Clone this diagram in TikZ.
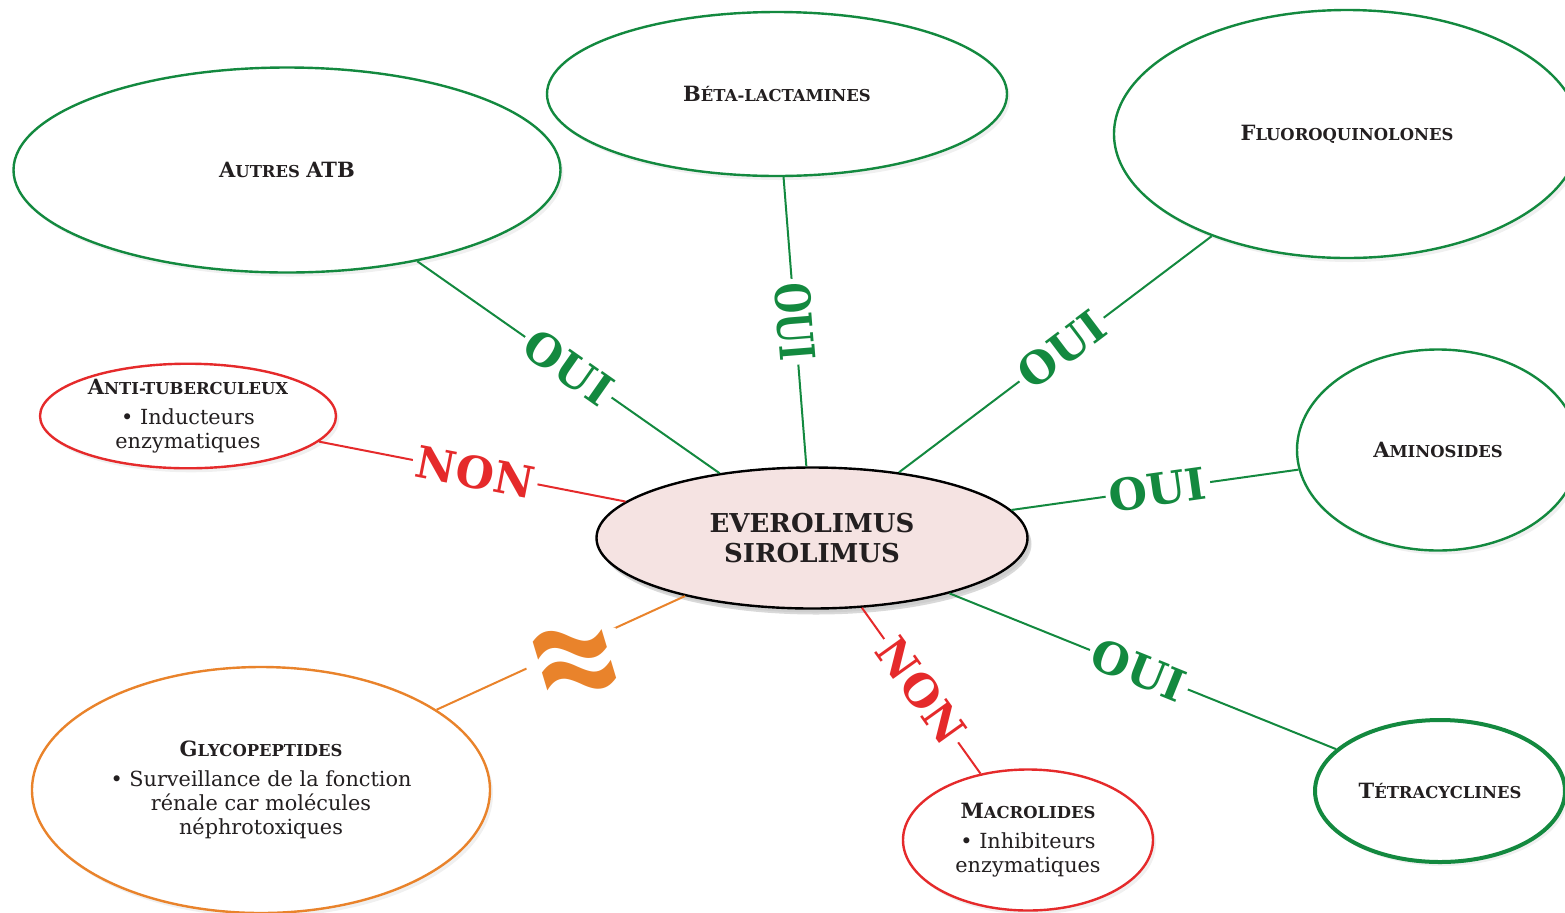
\documentclass[tikz,border=0pt]{standalone}
\usepackage{fontspec}
\setmainfont{DejaVu Serif}
\newfontfamily\symbfont{DejaVu Sans}
\usetikzlibrary{shapes.geometric,shadows}

\definecolor{vertlien}{HTML}{13893F}
\definecolor{rougelien}{HTML}{E52A2B}
\definecolor{orangelien}{HTML}{E9832B}
\definecolor{rosefond}{HTML}{F5E3E2}
\definecolor{textenoir}{HTML}{231F20}

% fake small capitals: big first letter, smaller rest
\newcommand{\petitcap}[2]{{\fontsize{10.5}{12}\selectfont\bfseries #1}{\fontsize{8.2}{12}\selectfont\bfseries #2}}
\newcommand{\corps}{\fontsize{10.4}{11.5}\selectfont}

\tikzset{
  bulle/.style={ellipse, draw, line width=1.2pt, fill=white, inner sep=0pt,
    align=center, text=textenoir,
    drop shadow={opacity=0.12, shadow xshift=1.5pt, shadow yshift=-2pt}},
  lien/.style={line width=1pt},
  oui/.style={sloped, fill=white, text=vertlien, inner sep=2pt,
    font=\fontsize{22}{22}\selectfont\bfseries},
  non/.style={sloped, fill=white, text=rougelien, inner sep=2pt,
    font=\fontsize{22}{22}\selectfont\bfseries},
}

\begin{document}
\begin{tikzpicture}[x=0.5pt, y=-0.5pt]

    % page frame, in pixels of the reference
    \useasboundingbox (0,0) rectangle (1565,912);

    % central drug
    \node[bulle, draw=black, fill=rosefond, minimum width=215.5pt, minimum height=70.5pt,
      font=\fontsize{13}{15}\selectfont\bfseries,
      drop shadow={opacity=0.3, shadow xshift=2pt, shadow yshift=-3pt}]
      (evero) at (812,538) {\raisebox{-2pt}{EVEROLIMUS}\\\raisebox{-2pt}{SIROLIMUS}};

    % antibiotic families around it
    \node[bulle, draw=vertlien, minimum width=273.5pt, minimum height=102.5pt]
      (autres) at (287,170) {\petitcap{A}{UTRES} \petitcap{ATB}{}};
    \node[bulle, draw=vertlien, minimum width=230pt, minimum height=82pt]
      (beta) at (777,94) {\petitcap{B}{ÉTA-LACTAMINES}};
    \node[bulle, draw=vertlien, minimum width=233pt, minimum height=124pt]
      (fluoro) at (1347,134) {\petitcap{F}{LUOROQUINOLONES}};
    \node[bulle, draw=vertlien, minimum width=141pt, minimum height=100.5pt]
      (amino) at (1438,450) {\petitcap{A}{MINOSIDES}};
    \node[bulle, draw=vertlien, line width=2pt, minimum width=125pt, minimum height=71pt]
      (tetra) at (1440,791) {\petitcap{T}{ÉTRACYCLINES}};
    \node[bulle, draw=rougelien, minimum width=125pt, minimum height=70.5pt]
      (macro) at (1028,840) {\petitcap{M}{ACROLIDES}\\[3pt]
      \corps • Inhibiteurs\\ \corps enzymatiques};
    \node[bulle, draw=orangelien, minimum width=229pt, minimum height=123pt]
      (glyco) at (261,790) {\petitcap{G}{LYCOPEPTIDES}\\[3pt]
      \corps • Surveillance de la fonction\\ \corps rénale car molécules\\
      \corps néphrotoxiques};
    \node[bulle, draw=rougelien, minimum width=148pt, minimum height=52pt]
      (antitb) at (188,416) {\petitcap{A}{NTI-TUBERCULEUX}\\[3pt]
      \corps • Inducteurs\\ \corps enzymatiques};

    % links with the answers
    \draw[lien, vertlien] (autres) -- node[oui, pos=0.5] {OUI} (evero);
    \draw[lien, vertlien] (beta) -- node[oui, pos=0.5] {\scalebox{0.8}[1.1]{OUI}} (evero);
    \draw[lien, vertlien] (fluoro) -- node[oui, pos=0.48] {OUI} (evero);
    \draw[lien, vertlien] (amino) -- node[oui, pos=0.49] {OUI} (evero);
    \draw[lien, vertlien] (tetra) -- node[oui, pos=0.51] {OUI} (evero);
    \draw[lien, rougelien] (macro) -- node[non, pos=0.5] {NON} (evero);
    \draw[lien, rougelien] (antitb) -- node[non, pos=0.51] {NON} (evero);
    \draw[lien, orangelien] (glyco) -- node[pos=0.52, fill=white, inner sep=1pt,
      text=orangelien, font=\symbfont\fontsize{58}{58}\selectfont\bfseries,
      xslant=-0.3, xshift=3pt, yshift=-9pt] {\scalebox{1}[1.3]{≈}} (evero);

\end{tikzpicture}
\end{document}
